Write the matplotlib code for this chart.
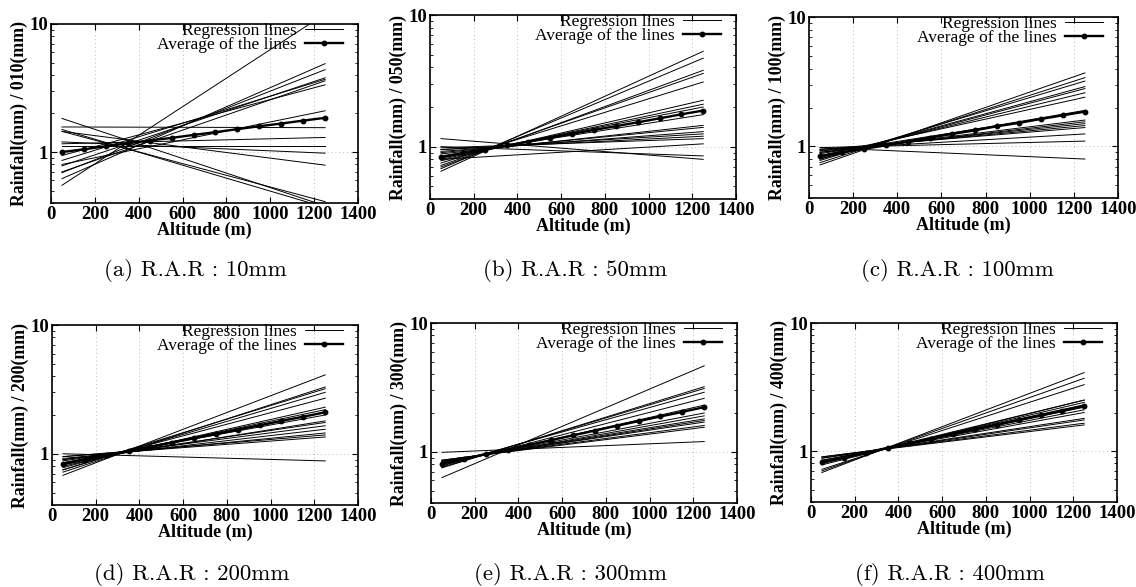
import numpy as np
import matplotlib
matplotlib.use("Agg")
import matplotlib.pyplot as plt

# Regression lines: value at x=50 m and at x=1250 m (straight on the log axis)
x_ends = [50, 1250]

starts_a = [0.55, 0.62, 0.69, 0.78, 0.86, 0.70, 0.94, 0.80, 1.57, 1.16, 1.12, 1.20, 1.45, 1.83, 1.50, 1.45]
ends_a = [12.0, 4.9, 4.4, 3.8, 3.7, 3.6, 3.35, 2.1, 1.55, 1.3, 1.12, 0.98, 0.79, 0.38, 0.37, 0.41]

starts_b = [0.65, 0.68, 0.70, 0.72, 0.75, 0.78, 0.80, 0.82, 0.85, 0.88, 0.90, 0.92, 0.95, 0.95, 0.98, 0.80, 1.00, 1.15]
ends_b = [5.3, 4.7, 3.8, 3.6, 3.1, 2.25, 2.1, 2.0, 1.75, 1.45, 1.4, 1.3, 1.25, 1.2, 1.15, 1.05, 0.85, 0.80]

starts_c = [0.72, 0.75, 0.78, 0.80, 0.80, 0.82, 0.85, 0.85, 0.88, 0.90, 0.90, 0.92, 0.93, 0.95, 0.95, 0.98, 0.98]
ends_c = [3.7, 3.4, 3.2, 2.9, 2.8, 2.6, 2.4, 1.9, 1.85, 1.6, 1.55, 1.5, 1.45, 1.4, 1.25, 1.1, 0.80]

starts_d = [0.68, 0.72, 0.75, 0.75, 0.78, 0.80, 0.82, 0.85, 0.85, 0.88, 0.90, 0.90, 0.92, 0.95, 0.95, 1.00, 0.85]
ends_d = [4.1, 3.3, 3.2, 3.0, 2.7, 2.3, 2.2, 2.0, 1.8, 1.75, 1.65, 1.55, 1.45, 1.4, 1.35, 0.88, 2.1]

starts_e = [0.63, 0.75, 0.76, 0.78, 0.78, 0.80, 0.82, 0.82, 0.84, 0.84, 0.85, 0.86, 0.86, 0.99]
ends_e = [4.65, 3.2, 3.1, 2.9, 2.6, 2.3, 2.0, 1.9, 1.8, 1.75, 1.7, 1.6, 1.55, 1.2]

starts_f = [0.68, 0.70, 0.72, 0.78, 0.80, 0.80, 0.82, 0.82, 0.84, 0.85, 0.88, 0.88, 0.90, 0.90]
ends_f = [4.1, 3.7, 3.3, 2.5, 2.5, 2.4, 2.3, 2.2, 2.1, 2.0, 1.8, 1.75, 1.65, 1.6]

# Average of the lines, one point every 100 m
avg_x = [50, 150, 250, 350, 450, 550, 650, 750, 850, 950, 1050, 1150, 1250]
avg_a = [1.00, 1.05, 1.11, 1.17, 1.23, 1.29, 1.36, 1.43, 1.51, 1.59, 1.67, 1.76, 1.85]
avg_b = [0.83, 0.89, 0.95, 1.02, 1.09, 1.17, 1.25, 1.34, 1.43, 1.53, 1.64, 1.76, 1.88]
avg_c = [0.84, 0.90, 0.96, 1.02, 1.09, 1.17, 1.25, 1.33, 1.43, 1.52, 1.63, 1.74, 1.86]
avg_d = [0.83, 0.90, 0.97, 1.05, 1.13, 1.22, 1.32, 1.42, 1.54, 1.66, 1.80, 1.94, 2.10]
avg_e = [0.81, 0.88, 0.96, 1.04, 1.13, 1.23, 1.34, 1.46, 1.59, 1.73, 1.88, 2.04, 2.22]
avg_f = [0.82, 0.89, 0.97, 1.06, 1.15, 1.25, 1.36, 1.48, 1.61, 1.75, 1.90, 2.07, 2.25]

ylabels = ['Rainfall(mm) / 010(mm)', 'Rainfall(mm) / 050(mm)', 'Rainfall(mm) / 100(mm)',
           'Rainfall(mm) / 200(mm)', 'Rainfall(mm) / 300(mm)', 'Rainfall(mm) / 400(mm)']
captions = ['(a) R.A.R : 10mm', '(b) R.A.R : 50mm', '(c) R.A.R : 100mm',
            '(d) R.A.R : 200mm', '(e) R.A.R : 300mm', '(f) R.A.R : 400mm']

panels = [(starts_a, ends_a, avg_a), (starts_b, ends_b, avg_b), (starts_c, ends_c, avg_c),
          (starts_d, ends_d, avg_d), (starts_e, ends_e, avg_e), (starts_f, ends_f, avg_f)]

# axes boxes in pixels: left, top, right, bottom
boxes = [(51, 24, 358, 203), (430, 15, 736, 199), (809, 17, 1118, 198),
         (52, 325, 358, 505), (431, 323, 737, 503), (811, 323, 1117, 502)]
cap_pos = [(195, 271), (575, 271), (957, 271), (192, 575), (571, 575), (950, 575)]

W, H = 1136, 587
fig = plt.figure(figsize=(W / 100, H / 100), dpi=100)
serif = ['Liberation Serif', 'DejaVu Serif']

for i, (st, en, av) in enumerate(panels):
    l, t, r, b = boxes[i]
    ax = fig.add_axes([l / W, 1 - b / H, (r - l) / W, (b - t) / H])
    ax.set_yscale('log')
    for k in range(len(st)):
        ax.plot(x_ends, [st[k], en[k]], color='black', lw=0.7,
                label='Regression lines' if k == 0 else None)
    ax.plot(avg_x, av, color='black', lw=1.7, marker='o', ms=3.2,
            label='Average of the lines')
    ax.set_xlim(0, 1400)
    ax.set_ylim(0.4, 10)
    ax.set_xticks(range(0, 1401, 200))
    ax.set_yticks([1, 10])
    ax.set_yticklabels(['1', '10'])
    ax.tick_params(which='both', direction='in', top=True, right=True)
    ax.tick_params(which='major', length=4, labelsize=13.5, pad=2)
    ax.tick_params(which='minor', length=2)
    ax.yaxis.set_minor_formatter(matplotlib.ticker.NullFormatter())
    for lab in ax.get_xticklabels() + ax.get_yticklabels():
        lab.set_family(serif)
        lab.set_fontweight('bold')
    ax.grid(True, which='major', color='#bbbbbb', ls=(0, (1, 3)), lw=0.7)
    ax.set_xlabel('Altitude (m)', family=serif, fontweight='bold', fontsize=13, labelpad=-1)
    ax.set_ylabel(ylabels[i], family=serif, fontweight='bold', fontsize=12.8, labelpad=1)
    for sp in ax.spines.values():
        sp.set_linewidth(1.2)
    ax.legend(loc='upper right', bbox_to_anchor=(0.955, 1.01), frameon=False,
              markerfirst=False, prop={'family': serif, 'size': 12.5},
              handlelength=2.2, labelspacing=-0.12, borderaxespad=0,
              borderpad=0.05, handletextpad=0.5)
    cx, cy = cap_pos[i]
    fig.text(cx / W, 1 - cy / H, captions[i], ha='center', va='center',
             family=['cmr10', 'DejaVu Serif'], fontsize=16.5)

fig.savefig('out.png', dpi=100)
